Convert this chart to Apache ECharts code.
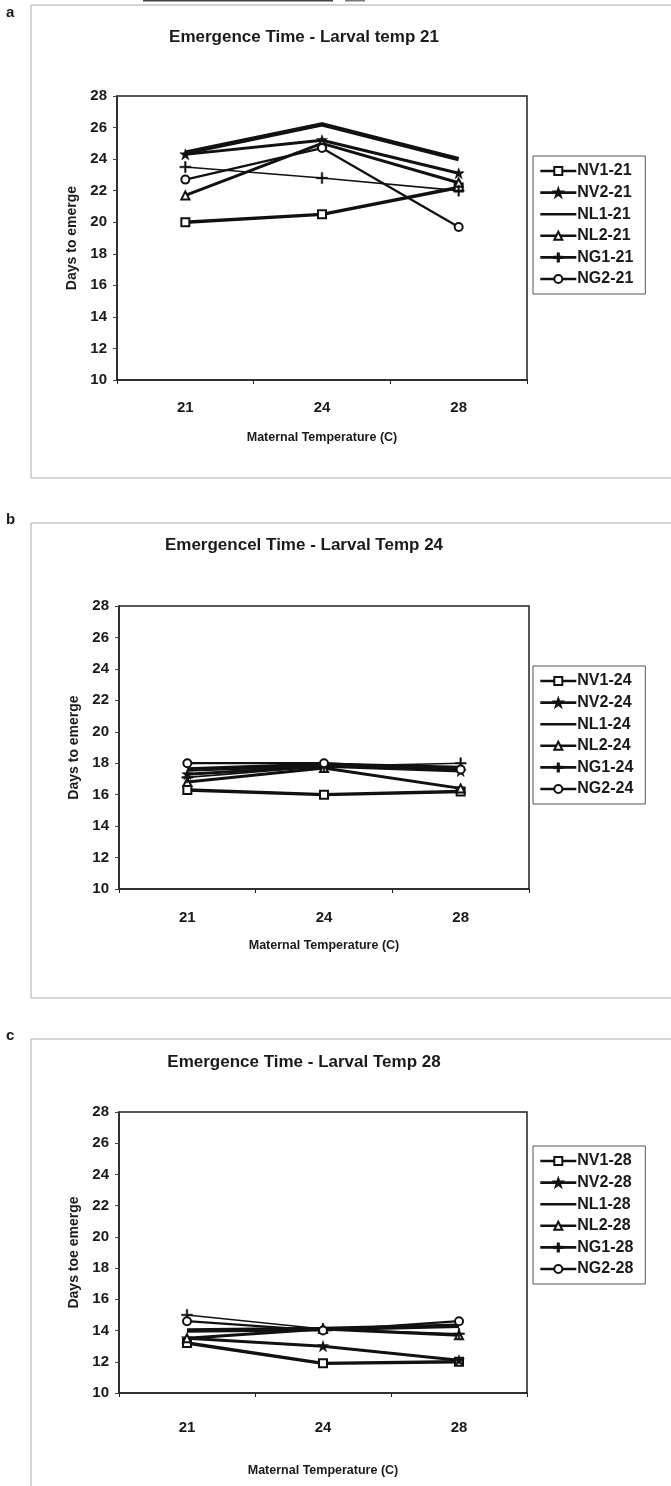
<!DOCTYPE html>
<html><head><meta charset="utf-8">
<script src="https://cdn.jsdelivr.net/npm/echarts@6/dist/echarts.min.js"></script>
<style>html,body{margin:0;padding:0;background:#fff}#c{width:671px;height:1486px}</style>
</head><body><div id="c"></div>
<script>
const categories = ['21', '24', '28'];
const seriesKeys = ['NV1', 'NV2', 'NL1', 'NL2', 'NG1', 'NG2'];
// Larval temp 21
const l21_NV1 = [20.0, 20.5, 22.2];
const l21_NV2 = [24.3, 25.2, 23.1];
const l21_NL1 = [24.4, 26.2, 24.0];
const l21_NL2 = [21.7, 25.0, 22.5];
const l21_NG1 = [23.5, 22.8, 22.0];
const l21_NG2 = [22.7, 24.7, 19.7];
// Larval temp 24
const l24_NV1 = [16.3, 16.0, 16.2];
const l24_NV2 = [17.3, 17.8, 17.5];
const l24_NL1 = [17.6, 17.9, 17.7];
const l24_NL2 = [16.8, 17.7, 16.4];
const l24_NG1 = [17.1, 17.8, 18.0];
const l24_NG2 = [18.0, 18.0, 17.6];
// Larval temp 28
const l28_NV1 = [13.2, 11.9, 12.0];
const l28_NV2 = [13.5, 13.0, 12.1];
const l28_NL1 = [14.0, 14.1, 14.3];
const l28_NL2 = [13.5, 14.1, 13.7];
const l28_NG1 = [15.0, 14.1, 13.8];
const l28_NG2 = [14.6, 14.0, 14.6];

const panelData = [
  [l21_NV1, l21_NV2, l21_NL1, l21_NL2, l21_NG1, l21_NG2],
  [l24_NV1, l24_NV2, l24_NL1, l24_NL2, l24_NG1, l24_NG2],
  [l28_NV1, l28_NV2, l28_NL1, l28_NL2, l28_NG1, l28_NG2]
];
const suffixes = ['21', '24', '28'];
const titles = ['Emergence Time - Larval temp 21', 'Emergencel Time - Larval Temp 24', 'Emergence Time - Larval Temp 28'];
const yNames = ['Days to emerge', 'Days to emerge', 'Days toe emerge'];
const xName = 'Maternal Temperature (C)';
const panelLetters = ['a', 'b', 'c'];

const FONT = '"Liberation Sans", Arial, sans-serif';
const INK = '#1a1a1a';

const layout = [
  { grid: { left: 117, top: 96, width: 410, height: 284 }, titleY: 37, labelMargin: 20, nameGap: 51, legendTop: 156, letterY: 14, box: [31, 5, 700, 473] },
  { grid: { left: 119, top: 606, width: 410, height: 283 }, titleY: 545, labelMargin: 21, nameGap: 50, legendTop: 666, letterY: 521, box: [31, 523, 700, 475] },
  { grid: { left: 119, top: 1112, width: 408, height: 281 }, titleY: 1062, labelMargin: 27, nameGap: 71, legendTop: 1146, letterY: 1037, box: [31, 1039, 700, 500] }
];

const starPath = 'path://M5,0 L6.2,3.2 L10,3.2 L7,5.4 L8.2,9 L5,6.8 L1.8,9 L3,5.4 L0,3.2 L3.8,3.2 Z';
const plusPath = 'path://M4.3,0 h1.4 v4.3 h4.3 v1.4 h-4.3 v4.3 h-1.4 v-4.3 h-4.3 v-1.4 h4.3 z';
const styles = {
  NV1: { symbol: 'rect', symbolSize: 8, width: 3.4, hollow: true },
  NV2: { symbol: starPath, symbolSize: 11, width: 3, hollow: false },
  NL1: { symbol: 'none', symbolSize: 0, width: 4.5, hollow: false },
  NL2: { symbol: 'triangle', symbolSize: 8, width: 3, hollow: true },
  NG1: { symbol: plusPath, symbolSize: 11, width: 1.6, hollow: false },
  NG2: { symbol: 'circle', symbolSize: 8, width: 2.2, hollow: true }
};

const grids = [], xAxes = [], yAxes = [], series = [], legends = [];
const graphics = [
  { type: 'rect', shape: { x: 143, y: 0, width: 190, height: 1.5 }, style: { fill: '#444' }, silent: true },
  { type: 'rect', shape: { x: 345, y: 0, width: 20, height: 1.5 }, style: { fill: '#777' }, silent: true }
];
layout.forEach((L, p) => {
  grids.push(Object.assign({ show: true, borderColor: '#222', borderWidth: 1.5, backgroundColor: '#fff' }, L.grid));
  xAxes.push({
    type: 'category', gridIndex: p, data: categories, boundaryGap: true,
    axisLine: { lineStyle: { color: '#222', width: 1.5 } },
    axisTick: { show: true, length: 4, lineStyle: { color: '#222' } },
    axisLabel: { color: INK, fontFamily: FONT, fontWeight: 'bold', fontSize: 15, margin: L.labelMargin },
    name: xName, nameLocation: 'middle', nameGap: L.nameGap,
    nameTextStyle: { color: INK, fontFamily: FONT, fontWeight: 'bold', fontSize: 12.5 }
  });
  yAxes.push({
    type: 'value', gridIndex: p, min: 10, max: 28, interval: 2,
    splitLine: { show: false },
    axisLine: { show: true, lineStyle: { color: '#222', width: 1.5 } },
    axisTick: { show: true, length: 4, lineStyle: { color: '#444' } },
    axisLabel: { color: INK, fontFamily: FONT, fontWeight: 'bold', fontSize: 15, margin: 10 },
    name: yNames[p], nameLocation: 'middle', nameGap: 29, nameRotate: 90,
    nameTextStyle: { color: INK, fontFamily: FONT, fontWeight: 'bold', fontSize: 14 }
  });
  const names = [];
  seriesKeys.forEach((k, i) => {
    const s = styles[k];
    const nm = k + '-' + suffixes[p];
    names.push(nm);
    const noSym = s.symbol === 'none';
    series.push({
      type: 'line', name: nm, xAxisIndex: p, yAxisIndex: p,
      data: panelData[p][i],
      symbol: s.symbol, symbolSize: s.symbolSize, showSymbol: !noSym,
      lineStyle: { color: '#111', width: s.width },
      itemStyle: noSym ? { color: 'rgba(0,0,0,0)', borderColor: 'rgba(0,0,0,0)', borderWidth: 0 }
        : { color: s.hollow ? '#fff' : '#111', borderColor: '#111', borderWidth: s.hollow ? 2 : 0.5 },
      emphasis: { disabled: true }, animation: false, z: 3
    });
  });
  legends.push({
    data: names, orient: 'vertical', left: 533, top: L.legendTop,
    itemWidth: 36, itemHeight: 10, itemGap: 5.6,
    padding: [7, 12, 7, 6], borderColor: '#555', borderWidth: 1, backgroundColor: '#fff',
    selectedMode: false,
    lineStyle: { width: 2.6, color: '#111' },
    textStyle: { color: INK, fontFamily: FONT, fontWeight: 'bold', fontSize: 16, padding: [0, 0, 0, -4] }
  });
  graphics.push({
    type: 'rect', shape: { x: L.box[0], y: L.box[1], width: L.box[2], height: L.box[3] },
    style: { fill: 'none', stroke: '#aaa', lineWidth: 1 }, z: -10, silent: true
  });
  graphics.push({
    type: 'text', left: 6, top: L.letterY - 9,
    style: { text: panelLetters[p], fill: INK, font: 'bold 15px ' + FONT }
  });
  graphics.push({
    type: 'text', x: 304, y: L.titleY,
    style: { text: titles[p], fill: INK, font: 'bold 17px ' + FONT, textAlign: 'center', textVerticalAlign: 'middle' }
  });
});

const chart = echarts.init(document.getElementById('c'), null, { renderer: 'canvas' });
chart.setOption({
  backgroundColor: '#fff', animation: false,
  grid: grids, xAxis: xAxes, yAxis: yAxes, series: series, legend: legends, graphic: graphics
});
</script></body></html>
